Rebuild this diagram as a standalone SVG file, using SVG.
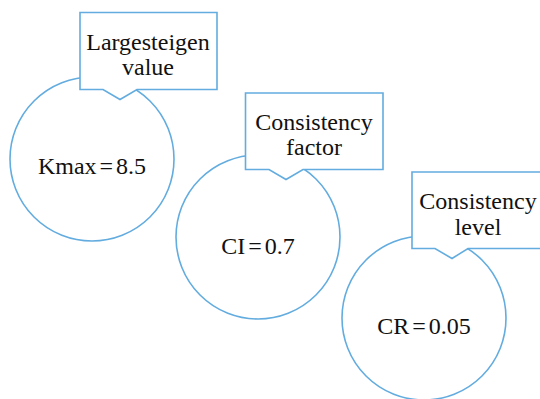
<svg xmlns="http://www.w3.org/2000/svg" width="540" height="399" viewBox="0 0 540 399">
<style>
.c{fill:#fff;stroke:#63acdf;stroke-width:1.6}
.t{font-family:"Liberation Serif",serif;font-size:24px;fill:#111;text-anchor:middle}
.v{word-spacing:-3px}
</style>
<rect width="540" height="399" fill="#fff"/>
<g id="node1">
<circle class="c" cx="92" cy="159" r="82"/>
<text class="t v" x="92" y="174">Kmax = 8.5</text>
</g>
<g id="node2">
<circle class="c" cx="258" cy="237" r="82"/>
<text class="t v" x="258" y="254">CI = 0.7</text>
</g>
<g id="node3">
<circle class="c" cx="424" cy="318" r="82"/>
<text class="t v" x="424" y="334">CR = 0.05</text>
</g>
<g id="callout1">
<path class="c" d="M80 12.5 H217 V89.5 H137 L120 99.5 L103 89.5 H80 Z"/>
<text class="t" x="148" y="50">Largesteigen</text>
<text class="t" x="148" y="75">value</text>
</g>
<g id="callout2">
<path class="c" d="M245.5 93 H383 V169.5 H303 L286 179.5 L269 169.5 H245.5 Z"/>
<text class="t" x="314" y="130">Consistency</text>
<text class="t" x="314" y="155">factor</text>
</g>
<g id="callout3">
<path class="c" d="M412 172 H552 V248.5 H468 L452 258.5 L435 248.5 H412 Z"/>
<text class="t" x="478" y="209">Consistency</text>
<text class="t" x="478" y="235">level</text>
</g>
<g id="connectors"></g>
</svg>
